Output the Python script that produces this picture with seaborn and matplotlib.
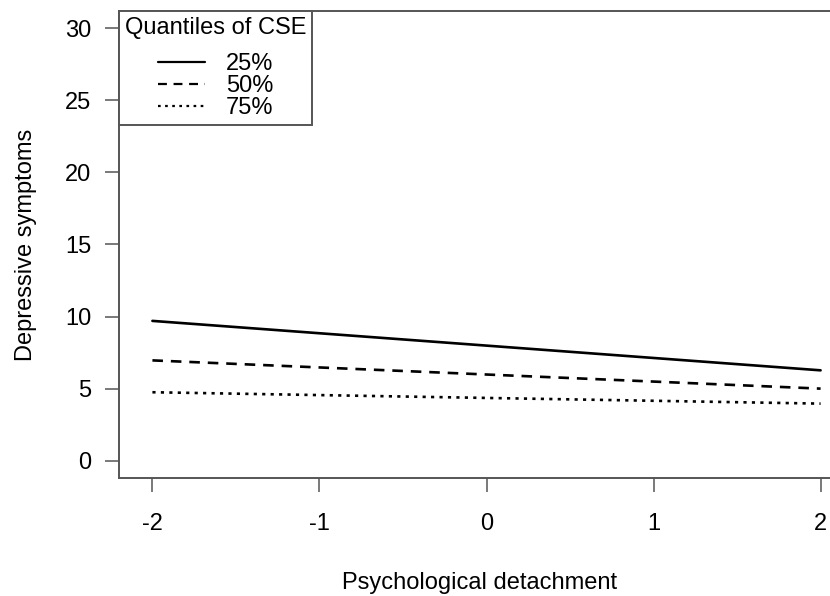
import matplotlib
matplotlib.use("Agg")
import matplotlib.pyplot as plt
import pandas as pd
import seaborn as sns

# predicted values at the ends of the detachment range
DETACHMENT = [-2, 2]
Q25 = [9.7, 6.27]
Q50 = [6.96, 5.0]
Q75 = [4.75, 3.96]
QUANTILES = ["25%", "50%", "75%"]

X_TICKS = [-2, -1, 0, 1, 2]
Y_TICKS = [0, 5, 10, 15, 20, 25, 30]


def main():
    df = pd.concat([
        pd.DataFrame({"x": DETACHMENT, "y": vals, "q": q})
        for q, vals in zip(QUANTILES, [Q25, Q50, Q75])
    ], ignore_index=True)

    sns.set_style("white")
    plt.rcParams["font.family"] = ["Liberation Sans", "DejaVu Sans"]
    plt.rcParams["text.color"] = "black"
    plt.rcParams["axes.labelcolor"] = "black"
    fs = 17

    fig = plt.figure(figsize=(8.3, 5.96), dpi=100)
    # right border of the box falls outside the picture, as in the original
    ax = fig.add_axes([119 / 830, 118 / 596, 735 / 830, 467 / 596])

    dash_map = {"25%": "", "50%": (4, 3), "75%": (1.2, 2.0)}
    sns.lineplot(data=df, x="x", y="y", style="q", dashes=dash_map,
                 color="black", lw=1.9, ax=ax, legend=True)

    ax.set_xlim(-2.2, 2.2)
    ax.set_ylim(-1.2, 31.2)
    ax.set_xticks(X_TICKS)
    ax.set_xticklabels([str(v) for v in X_TICKS])
    ax.set_yticks(Y_TICKS)
    ax.tick_params(axis="both", direction="out", length=10, width=1.1,
                   color="#555555", labelcolor="black", labelsize=fs,
                   bottom=True, left=True)
    ax.tick_params(axis="x", pad=15)
    ax.tick_params(axis="y", pad=10)
    for sp in ax.spines.values():
        sp.set_visible(True)
        sp.set_color("#555555")
        sp.set_linewidth(1.4)

    ax.set_xlabel("Psychological detachment", fontsize=fs)
    ax.set_ylabel("Depressive symptoms", fontsize=fs, labelpad=20)
    ax.xaxis.set_label_coords((480 - 119) / 735, -0.202)

    handles, labels = ax.get_legend_handles_labels()
    leg = ax.legend(handles, labels, title="Quantiles of CSE", loc="upper left",
                    bbox_to_anchor=(0, 1), borderaxespad=0, fontsize=fs,
                    title_fontsize=fs, frameon=True, fancybox=False,
                    edgecolor="#555555", framealpha=1, labelspacing=0.0,
                    handlelength=2.0, handletextpad=0.9, borderpad=0.25)
    leg._legend_box.sep = 10
    leg.get_frame().set_linewidth(1.4)
    for ln in leg.get_lines():
        ln.set_linewidth(1.6)

    fig.savefig("out.png", dpi=100)
    plt.close(fig)


if __name__ == "__main__":
    main()
